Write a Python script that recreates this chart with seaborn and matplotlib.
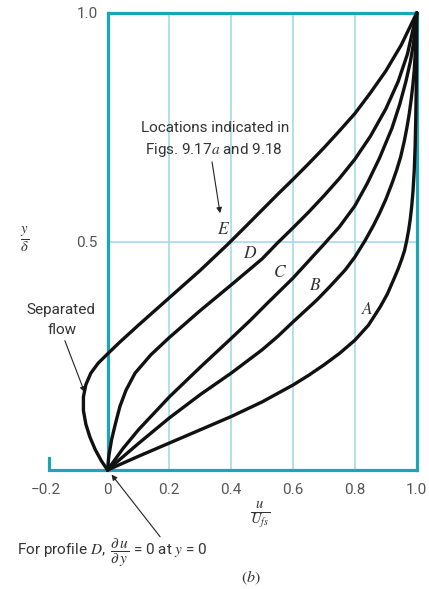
import numpy as np
import pandas as pd
import matplotlib
matplotlib.use("Agg")
import matplotlib.pyplot as plt
import seaborn as sns

# ---------------- data ----------------
profile_A_u = [0, 0.1, 0.2, 0.3, 0.4, 0.5, 0.6, 0.65, 0.7, 0.75, 0.8, 0.844, 0.882, 0.905, 0.925, 0.94,
               0.952, 0.961, 0.968, 0.974, 0.979, 0.984, 0.988, 0.992, 0.995, 0.997, 0.999, 1.0]
profile_A_y = [0, 0.03, 0.059, 0.088, 0.117, 0.149, 0.186, 0.207, 0.23, 0.255, 0.284, 0.317, 0.357, 0.385, 0.416, 0.44,
               0.462, 0.481, 0.503, 0.525, 0.548, 0.578, 0.61, 0.655, 0.71, 0.77, 0.86, 1.0]

profile_B_u = [0, 0.1, 0.2, 0.3, 0.4, 0.5, 0.55, 0.6, 0.677, 0.72, 0.769, 0.8, 0.833, 0.86, 0.88, 0.9, 0.92,
               0.935, 0.948, 0.96, 0.968, 0.976, 0.982, 0.988, 0.992, 0.996, 1.0]
profile_B_y = [0, 0.058, 0.114, 0.165, 0.212, 0.263, 0.292, 0.324, 0.372, 0.402, 0.438, 0.466, 0.502, 0.535, 0.562, 0.592, 0.627,
               0.656, 0.685, 0.72, 0.748, 0.78, 0.81, 0.845, 0.875, 0.92, 1.0]

profile_C_u = [0, 0.05, 0.1, 0.2, 0.3, 0.4, 0.461, 0.52, 0.6, 0.65, 0.7, 0.75, 0.8, 0.84, 0.88, 0.92,
               0.945, 0.965, 0.98, 0.99, 1.0]
profile_C_y = [0, 0.047, 0.088, 0.16, 0.225, 0.288, 0.327, 0.367, 0.42, 0.457, 0.494, 0.532, 0.578, 0.627, 0.683, 0.748,
               0.8, 0.85, 0.895, 0.935, 1.0]

profile_D_u = [0, 0.004, 0.013, 0.025, 0.04, 0.06, 0.089, 0.14, 0.2, 0.3, 0.4, 0.5, 0.55, 0.6, 0.65, 0.7,
               0.75, 0.8, 0.85, 0.9, 0.94, 0.97, 1.0]
profile_D_y = [0, 0.03, 0.066, 0.1, 0.139, 0.175, 0.212, 0.252, 0.29, 0.349, 0.405, 0.462, 0.497, 0.53, 0.564, 0.6,
               0.638, 0.68, 0.73, 0.79, 0.85, 0.91, 1.0]

profile_E_u = [0, -0.02, -0.04, -0.057, -0.07, -0.078, -0.078, -0.07, -0.054, -0.03, 0, 0.04, 0.1, 0.2, 0.3, 0.386,
               0.45, 0.494, 0.55, 0.6, 0.65, 0.7, 0.75, 0.8, 0.85, 0.9, 0.95, 1.0]
profile_E_y = [0, 0.02, 0.045, 0.072, 0.1, 0.13, 0.16, 0.187, 0.212, 0.234, 0.254, 0.28, 0.317, 0.377, 0.437, 0.492,
               0.535, 0.565, 0.603, 0.636, 0.67, 0.705, 0.742, 0.78, 0.825, 0.873, 0.93, 1.0]

profile_names = ["A", "B", "C", "D", "E"]
label_u = [0.840, 0.672, 0.558, 0.461, 0.374]
label_y = [0.352, 0.405, 0.433, 0.475, 0.527]

x_ticks = [-0.2, 0, 0.2, 0.4, 0.6, 0.8, 1.0]
x_tick_labels = ["\u22120.2", "0", "0.2", "0.4", "0.6", "0.8", "1.0"]
y_ticks = [0.5, 1.0]
y_tick_labels = ["0.5", "1.0"]
grid_u = [0.2, 0.4, 0.6, 0.8]
grid_y = [0.5]

# ---------------- build table ----------------
us = [profile_A_u, profile_B_u, profile_C_u, profile_D_u, profile_E_u]
ys = [profile_A_y, profile_B_y, profile_C_y, profile_D_y, profile_E_y]
rows = []
for name, uu, yy in zip(profile_names, us, ys):
    for u, y in zip(uu, yy):
        rows.append({"profile": name, "u": u, "y": y})
df = pd.DataFrame(rows)

# ---------------- style ----------------
sns.set_style("white")
plt.rcParams["font.family"] = ["Roboto", "DejaVu Sans"]
plt.rcParams["mathtext.fontset"] = "stix"

TEAL = "#1ba6b6"
GRID = "#a6dbe5"
TXT = "#333333"
TICK = "#555555"

fig = plt.figure(figsize=(4.29, 5.89), dpi=100)
ax = fig.add_axes([45.7 / 429, 119 / 589, 371 / 429, 457 / 589])
ax.set_xlim(-0.2, 1.0)
ax.set_ylim(0, 1)

# grid
for g in grid_u:
    ax.axvline(g, color=GRID, lw=1.2, zorder=0)
for g in grid_y:
    ax.axhline(g, xmin=0.2 / 1.2, xmax=1, color=GRID, lw=1.2, zorder=0)

# curves
sns.lineplot(data=df, x="u", y="y", units="profile", estimator=None, sort=False,
             color="#111111", lw=2.4, ax=ax, clip_on=False, zorder=5,
             solid_joinstyle="round", solid_capstyle="round")

# frame
for side in ["left", "right", "top", "bottom"]:
    sp = ax.spines[side]
    sp.set_visible(True)
    sp.set_color(TEAL)
    sp.set_linewidth(2.3)
    sp.set_capstyle("projecting")
    sp.set_zorder(4)
ax.spines["left"].set_position(("data", 0))
ax.spines["left"].set_bounds(0, 1)
ax.spines["top"].set_bounds(0, 1)
ax.spines["bottom"].set_bounds(-0.19, 1)
ax.axvline(-0.19, ymin=0, ymax=0.026, color=TEAL, lw=2.3, solid_capstyle="projecting")

ax.set_xticks(x_ticks, x_tick_labels)
ax.set_yticks(y_ticks, y_tick_labels)
ax.tick_params(axis="x", length=0, pad=9, labelsize=11, labelcolor=TICK)
ax.tick_params(axis="y", length=0, pad=7, labelsize=11, labelcolor=TICK)
ax.set_xlabel("")
ax.set_ylabel("")

# curve labels
for name, lu, ly in zip(profile_names, label_u, label_y):
    ax.text(lu, ly, "$" + name + "$", ha="center", va="center", fontsize=12.5, color=TXT, zorder=6)

# annotations
ax.text(0.347, 0.748, "Locations indicated in", ha="center", va="center", fontsize=11, color=TXT)
ax.text(0.345, 0.700, "Figs. 9.17$a$ and 9.18", ha="center", va="center", fontsize=11, color=TXT)
arrow = dict(arrowstyle="-|>", color="#222222", lw=0.8, mutation_scale=8, shrinkA=0, shrinkB=0)
ax.annotate("", xy=(0.364, 0.562), xytext=(0.338, 0.674), arrowprops=arrow, annotation_clip=False)

ax.text(-0.152, 0.350, "Separated", ha="center", va="center", fontsize=11, color=TXT)
ax.text(-0.148, 0.306, "flow", ha="center", va="center", fontsize=11, color=TXT)
ax.annotate("", xy=(-0.074, 0.170), xytext=(-0.138, 0.283), arrowprops=arrow, annotation_clip=False)

ax.annotate("", xy=(0.013, -0.010), xytext=(0.170, -0.146), arrowprops=arrow, annotation_clip=False)

# axis labels as fractions
fig.text(25 / 429, 1 - 240 / 589, r"$\frac{y}{\delta}$", ha="center", va="center", fontsize=15, color=TXT)
fig.text(260 / 429, 1 - 515 / 589, r"$\frac{u}{U_{fs}}$", ha="center", va="center", fontsize=15, color=TXT)

fig.text(17 / 429, 1 - 553 / 589,
         r"For profile $D$, $\;\dfrac{\partial\, u}{\partial\, y}$ = 0 at $y$ = 0",
         ha="left", va="center", fontsize=11, color=TXT)
fig.text(251 / 429, 1 - 578 / 589, r"$(b)$", ha="center", va="center", fontsize=11.5, color=TXT)

fig.savefig("out.png", dpi=100)
